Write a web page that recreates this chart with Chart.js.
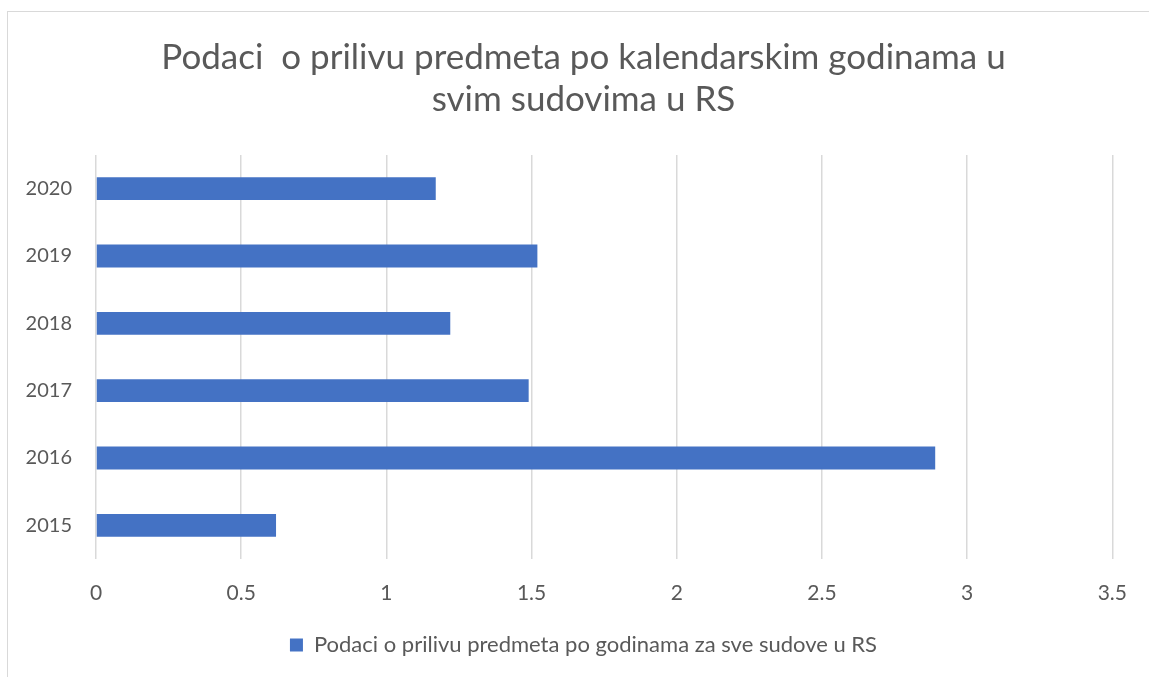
<!DOCTYPE html>
<html>
<head>
<meta charset="utf-8">
<script src="https://cdn.jsdelivr.net/npm/chart.js@4"></script>
<style>
  html, body { margin: 0; padding: 0; background: #fff; overflow: hidden; }
  #frame { position: absolute; left: 7px; top: 11px; width: 1200px; height: 700px;
           border-left: 1px solid #d9d9d9; border-top: 1px solid #d9d9d9; }
  #wrap { position: absolute; left: 0; top: 0; width: 1149px; height: 677px; }
</style>
</head>
<body>
<div id="frame"></div>
<div id="wrap"><canvas id="priliv-chart"></canvas></div>
<script>
var godine = ['2020', '2019', '2018', '2017', '2016', '2015'];
var priliv = [1.17, 1.52, 1.22, 1.49, 2.89, 0.62];
var xTicks = [0, 0.5, 1, 1.5, 2, 2.5, 3, 3.5];
var naslov = ['Podaci  o prilivu predmeta po kalendarskim godinama u', 'svim sudovima u RS'];
var serija = 'Podaci o prilivu predmeta po godinama za sve sudove u RS';

var font = 'Lato, "Open Sans", sans-serif';
var siva = '#595959';

var ctx = document.getElementById('priliv-chart').getContext('2d');
var myChart = new Chart(ctx, {
  type: 'bar',
  data: {
    labels: godine,
    datasets: [{
      label: serija,
      data: priliv,
      backgroundColor: '#4472C4',
      barPercentage: 0.34,
      categoryPercentage: 1
    }]
  },
  options: {
    indexAxis: 'y',
    responsive: true,
    maintainAspectRatio: false,
    animation: false,
    layout: { padding: { left: 18, right: 0, top: 0, bottom: 11 } },
    scales: {
      x: {
        min: 0,
        max: 3.5,
        afterBuildTicks: function (s) { s.ticks = xTicks.map(function (v) { return { value: v }; }); },
        afterFit: function (s) { s.height = 65; },
        grid: { color: '#d9d9d9', lineWidth: 1.5, drawTicks: false },
        border: { display: false },
        ticks: {
          color: siva,
          padding: 22,
          font: { family: font, size: 21 },
          callback: function (v) { return String(v); }
        }
      },
      y: {
        afterFit: function (s) { s.width = 78; },
        grid: { display: false, drawTicks: false },
        border: { display: false },
        ticks: { color: siva, padding: 24, font: { family: font, size: 20 } }
      },
      yDesno: {
        type: 'category',
        position: 'right',
        afterFit: function (s) { s.width = 34; },
        grid: { display: false },
        border: { display: false },
        ticks: { display: false }
      }
    },
    plugins: {
      title: {
        display: true,
        text: naslov,
        color: siva,
        font: { family: font, size: 35, weight: 'normal', lineHeight: 1.2 },
        padding: { top: 37, bottom: 34 }
      },
      legend: {
        position: 'bottom',
        labels: {
          color: siva,
          boxWidth: 13,
          boxHeight: 13,
          padding: 10,
          font: { family: font, size: 22 }
        }
      },
      tooltip: { enabled: false }
    }
  }
});
</script>
</body>
</html>
